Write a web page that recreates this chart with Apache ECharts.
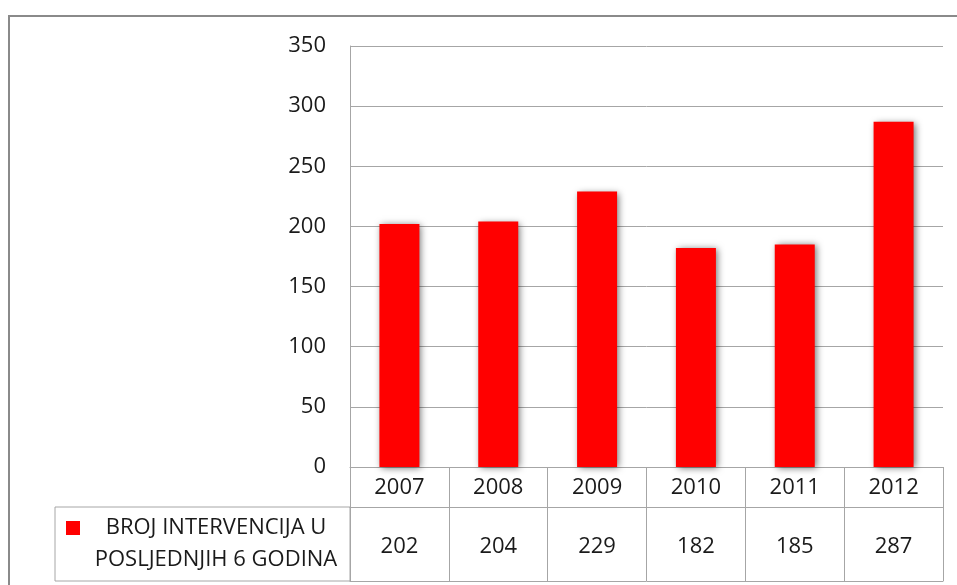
<!DOCTYPE html>
<html>
<head>
<meta charset="utf-8">
<script src="https://cdn.jsdelivr.net/npm/echarts@6/dist/echarts.min.js"></script>
<style>
  html, body { margin: 0; padding: 0; background: #fff; }
  #main { width: 957px; height: 585px; }
</style>
</head>
<body>
<div id="main"></div>
<script>
// podaci
var years = ['2007', '2008', '2009', '2010', '2011', '2012'];
var interventions = [202, 204, 229, 182, 185, 287];
var seriesName = ['BROJ INTERVENCIJA U', 'POSLJEDNJIH 6 GODINA'];
var yTicks = { min: 0, max: 350, step: 50 };

var chartDom = document.getElementById('main');
var myChart = echarts.init(chartDom);
var font = '"Open Sans", sans-serif';
var gridColor = '#a6a6a6';
var textColor = '#1a1a1a';
var option;

option = {
    animation: false,
    grid: { left: 350, right: 14, top: 46, bottom: 118 },
    xAxis: [
        {
            type: 'category',
            data: years,
            position: 'bottom',
            axisLine: { show: true, lineStyle: { color: gridColor, width: 1 } },
            axisTick: { show: true, interval: 0, length: 40, lineStyle: { color: gridColor } },
            axisLabel: { margin: 10, fontSize: 22, fontFamily: font, color: textColor }
        },
        {
            type: 'category',
            data: interventions.map(String),
            position: 'bottom',
            offset: 40,
            axisLine: { show: true, lineStyle: { color: gridColor, width: 1 } },
            axisTick: { show: true, interval: 0, length: 74, lineStyle: { color: gridColor } },
            axisLabel: { margin: 29, fontSize: 22, fontFamily: font, color: textColor }
        },
        {
            type: 'category',
            data: years,
            position: 'bottom',
            offset: 114,
            axisLine: { show: true, lineStyle: { color: gridColor, width: 1 } },
            axisTick: { show: false },
            axisLabel: { show: false }
        }
    ],
    yAxis: {
        type: 'value',
        min: yTicks.min,
        max: yTicks.max,
        interval: yTicks.step,
        axisLine: { show: true, lineStyle: { color: gridColor } },
        axisTick: { show: false },
        splitLine: { show: true, lineStyle: { color: gridColor, width: 1 } },
        axisLabel: { margin: 24, fontSize: 22, fontFamily: font, color: textColor }
    },
    series: [
        {
            name: seriesName.join(' '),
            type: 'bar',
            xAxisIndex: 0,
            data: interventions,
            barWidth: 40,
            itemStyle: {
                color: '#ff0000',
                shadowColor: 'rgba(0,0,0,0.55)',
                shadowBlur: 7,
                shadowOffsetX: 2,
                shadowOffsetY: 1
            }
        }
    ],
    graphic: [
        {
            type: 'rect',
            silent: true,
            shape: { x: 9, y: 16, width: 970, height: 600 },
            style: { fill: 'none', stroke: '#8a8a8a', lineWidth: 2 }
        },
        {
            type: 'rect',
            silent: true,
            shape: { x: 55, y: 507, width: 295, height: 74 },
            style: { fill: 'none', stroke: gridColor, lineWidth: 1 }
        },
        {
            type: 'rect',
            silent: true,
            shape: { x: 66, y: 521, width: 14, height: 14 },
            style: { fill: '#ff0000' }
        },
        {
            type: 'text',
            silent: true,
            x: 216,
            y: 512,
            style: {
                text: seriesName.join('\n'),
                fontSize: 22,
                fontFamily: font,
                fill: textColor,
                lineHeight: 32,
                align: 'center',
                verticalAlign: 'top'
            }
        }
    ]
};

option && myChart.setOption(option);
</script>
</body>
</html>
